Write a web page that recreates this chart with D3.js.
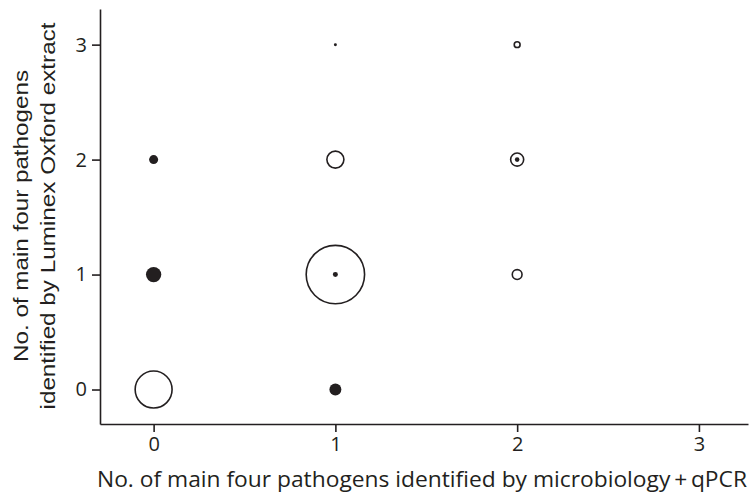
<!DOCTYPE html>
<html>
<head>
<meta charset="utf-8">
<script src="https://cdn.jsdelivr.net/npm/d3@7"></script>
<style>
  html, body { margin: 0; padding: 0; background: #fff; }
  svg { display: block; }
</style>
</head>
<body>
<svg id="chart" width="755" height="494"></svg>
<script>
// Data
const xTicks = [0, 1, 2, 3];
const yTicks = [0, 1, 2, 3];
// open circles (x, y, relative size)
const openX = [0, 1, 1, 2, 2, 2];
const openY = [0, 1, 2, 1, 2, 3];
const openN = [40, 100, 8.5, 2.8, 5, 1];
// filled circles (x, y, relative size)
const filledX = [0, 0, 1, 1, 1, 2];
const filledY = [1, 2, 0, 1, 3, 2];
const filledN = [6.9, 2.4, 4.2, 0.73, 0.26, 0.62];

const xTitle = "No. of main four pathogens identified by microbiology\u2009+\u2009qPCR";
const yTitle1 = "No. of main four pathogens";
const yTitle2 = "identified by Luminex Oxford extract";

const ink = "#231f20";
const svg = d3.select("#chart");

const x = d3.scaleLinear().domain([-0.295, 3.27]).range([100, 748]);
const y = d3.scaleLinear().domain([-0.3, 3.31]).range([424, 9]);
const r = d3.scaleSqrt().domain([0, 100]).range([0, 29.2]);

const tickFont = "'Open Sans', sans-serif";

// x axis
const gx = svg.append("g").attr("transform", `translate(0,${y(-0.3)})`)
  .call(d3.axisBottom(x).tickValues(xTicks).tickFormat(d3.format("d")).tickSize(8).tickSizeOuter(0).tickPadding(5));
// y axis
const gy = svg.append("g").attr("transform", `translate(${x(-0.295)},0)`)
  .call(d3.axisLeft(y).tickValues(yTicks).tickFormat(d3.format("d")).tickSize(8).tickSizeOuter(0).tickPadding(5));

[gx, gy].forEach(g => {
  g.select(".domain").attr("stroke", ink).attr("stroke-width", 1.6);
  g.selectAll(".tick line").attr("stroke", ink).attr("stroke-width", 1.6);
  g.selectAll(".tick text").attr("fill", ink).style("font-family", tickFont).style("font-size", "20px");
});

// open circles
svg.append("g").selectAll("circle")
  .data(openX.map((d, i) => ({x: d, y: openY[i], n: openN[i]})))
  .join("circle")
  .attr("cx", d => x(d.x)).attr("cy", d => y(d.y)).attr("r", d => r(d.n))
  .attr("fill", "none").attr("stroke", ink).attr("stroke-width", 1.6);

// filled circles
svg.append("g").selectAll("circle")
  .data(filledX.map((d, i) => ({x: d, y: filledY[i], n: filledN[i]})))
  .join("circle")
  .attr("cx", d => x(d.x)).attr("cy", d => y(d.y)).attr("r", d => r(d.n))
  .attr("fill", ink);

// x title
svg.append("text")
  .attr("x", 97).attr("y", 487)
  .attr("textLength", 650).attr("lengthAdjust", "spacingAndGlyphs")
  .attr("fill", ink)
  .style("font-family", tickFont).style("font-size", "21px")
  .text(xTitle);

// y title
const yt = svg.append("text")
  .attr("transform", "translate(0,216) rotate(-90)")
  .attr("text-anchor", "middle")
  .attr("fill", ink)
  .style("font-family", "'Liberation Sans', Arial, sans-serif").style("font-size", "21px");
yt.append("tspan").attr("x", 0).attr("y", 28)
  .attr("textLength", 292).attr("lengthAdjust", "spacingAndGlyphs").text(yTitle1);
yt.append("tspan").attr("x", 0).attr("y", 55)
  .attr("textLength", 387).attr("lengthAdjust", "spacingAndGlyphs").text(yTitle2);
</script>
</body>
</html>
